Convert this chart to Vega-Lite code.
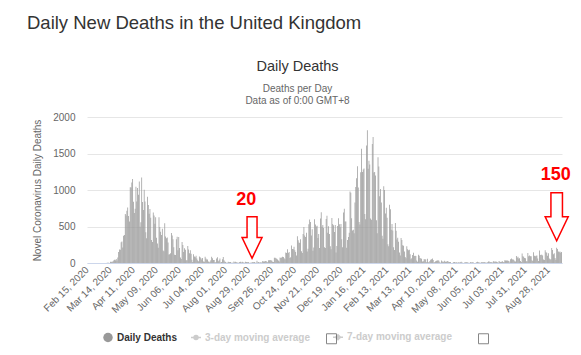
{
"$schema": "https://vega.github.io/schema/vega-lite/v6.json",
"width": 475, "height": 146,
"autosize": {"type": "none"},
"padding": {"left": 87, "top": 117, "right": 19, "bottom": 92},
"background": "#ffffff",
"title": {"text": "Daily New Deaths in the United Kingdom", "anchor": "start", "frame": "group", "dx": -60, "offset": 11, "baseline": "alphabetic", "fontSize": 18.5, "font": "Liberation Sans", "fontWeight": "normal", "color": "#333333"},
"config": {"font": "Liberation Sans", "view": {"stroke": null}},
"resolve": {"axis": {"x": "independent", "y": "independent"}},
"layer": [
{
"data": {"values": [
{"d":"2020-02-15","v":0},{"d":"2020-02-16","v":0},{"d":"2020-02-17","v":0},{"d":"2020-02-18","v":0},{"d":"2020-02-19","v":0},{"d":"2020-02-20","v":0},{"d":"2020-02-21","v":0},{"d":"2020-02-22","v":0},{"d":"2020-02-23","v":0},{"d":"2020-02-24","v":0},{"d":"2020-02-25","v":0},{"d":"2020-02-26","v":0},{"d":"2020-02-27","v":0},{"d":"2020-02-28","v":0},{"d":"2020-02-29","v":0},
{"d":"2020-03-01","v":0},{"d":"2020-03-02","v":0},{"d":"2020-03-03","v":0},{"d":"2020-03-04","v":0},{"d":"2020-03-05","v":1},{"d":"2020-03-06","v":1},{"d":"2020-03-07","v":0},{"d":"2020-03-08","v":1},{"d":"2020-03-09","v":1},{"d":"2020-03-10","v":3},{"d":"2020-03-11","v":2},{"d":"2020-03-12","v":2},{"d":"2020-03-13","v":1},{"d":"2020-03-14","v":18},{"d":"2020-03-15","v":15},{"d":"2020-03-16","v":22},{"d":"2020-03-17","v":16},{"d":"2020-03-18","v":34},{"d":"2020-03-19","v":43},{"d":"2020-03-20","v":36},{"d":"2020-03-21","v":56},{"d":"2020-03-22","v":35},{"d":"2020-03-23","v":74},{"d":"2020-03-24","v":149},{"d":"2020-03-25","v":186},{"d":"2020-03-26","v":183},{"d":"2020-03-27","v":284},{"d":"2020-03-28","v":294},{"d":"2020-03-29","v":214},{"d":"2020-03-30","v":374},{"d":"2020-03-31","v":382},
{"d":"2020-04-01","v":670},{"d":"2020-04-02","v":652},{"d":"2020-04-03","v":715},{"d":"2020-04-04","v":761},{"d":"2020-04-05","v":643},{"d":"2020-04-06","v":568},{"d":"2020-04-07","v":1038},{"d":"2020-04-08","v":1034},{"d":"2020-04-09","v":1103},{"d":"2020-04-10","v":1152},{"d":"2020-04-11","v":839},{"d":"2020-04-12","v":686},{"d":"2020-04-13","v":744},{"d":"2020-04-14","v":1044},{"d":"2020-04-15","v":842},{"d":"2020-04-16","v":1029},{"d":"2020-04-17","v":935},{"d":"2020-04-18","v":1115},{"d":"2020-04-19","v":498},{"d":"2020-04-20","v":559},{"d":"2020-04-21","v":1172},{"d":"2020-04-22","v":837},{"d":"2020-04-23","v":727},{"d":"2020-04-24","v":1005},{"d":"2020-04-25","v":843},{"d":"2020-04-26","v":420},{"d":"2020-04-27","v":338},{"d":"2020-04-28","v":909},{"d":"2020-04-29","v":795},{"d":"2020-04-30","v":674},
{"d":"2020-05-01","v":739},{"d":"2020-05-02","v":621},{"d":"2020-05-03","v":315},{"d":"2020-05-04","v":288},{"d":"2020-05-05","v":693},{"d":"2020-05-06","v":649},{"d":"2020-05-07","v":539},{"d":"2020-05-08","v":626},{"d":"2020-05-09","v":346},{"d":"2020-05-10","v":268},{"d":"2020-05-11","v":210},{"d":"2020-05-12","v":627},{"d":"2020-05-13","v":494},{"d":"2020-05-14","v":428},{"d":"2020-05-15","v":384},{"d":"2020-05-16","v":468},{"d":"2020-05-17","v":170},{"d":"2020-05-18","v":160},{"d":"2020-05-19","v":545},{"d":"2020-05-20","v":363},{"d":"2020-05-21","v":338},{"d":"2020-05-22","v":351},{"d":"2020-05-23","v":282},{"d":"2020-05-24","v":118},{"d":"2020-05-25","v":121},{"d":"2020-05-26","v":134},{"d":"2020-05-27","v":412},{"d":"2020-05-28","v":377},{"d":"2020-05-29","v":324},{"d":"2020-05-30","v":215},{"d":"2020-05-31","v":113},
{"d":"2020-06-01","v":111},{"d":"2020-06-02","v":324},{"d":"2020-06-03","v":359},{"d":"2020-06-04","v":176},{"d":"2020-06-05","v":357},{"d":"2020-06-06","v":204},{"d":"2020-06-07","v":77},{"d":"2020-06-08","v":55},{"d":"2020-06-09","v":286},{"d":"2020-06-10","v":245},{"d":"2020-06-11","v":151},{"d":"2020-06-12","v":202},{"d":"2020-06-13","v":181},{"d":"2020-06-14","v":36},{"d":"2020-06-15","v":38},{"d":"2020-06-16","v":233},{"d":"2020-06-17","v":184},{"d":"2020-06-18","v":135},{"d":"2020-06-19","v":173},{"d":"2020-06-20","v":128},{"d":"2020-06-21","v":43},{"d":"2020-06-22","v":15},{"d":"2020-06-23","v":120},{"d":"2020-06-24","v":90},{"d":"2020-06-25","v":80},{"d":"2020-06-26","v":100},{"d":"2020-06-27","v":60},{"d":"2020-06-28","v":36},{"d":"2020-06-29","v":25},{"d":"2020-06-30","v":90},
{"d":"2020-07-01","v":80},{"d":"2020-07-02","v":66},{"d":"2020-07-03","v":48},{"d":"2020-07-04","v":67},{"d":"2020-07-05","v":22},{"d":"2020-07-06","v":16},{"d":"2020-07-07","v":85},{"d":"2020-07-08","v":60},{"d":"2020-07-09","v":48},{"d":"2020-07-10","v":48},{"d":"2020-07-11","v":21},{"d":"2020-07-12","v":11},{"d":"2020-07-13","v":21},{"d":"2020-07-14","v":38},{"d":"2020-07-15","v":85},{"d":"2020-07-16","v":66},{"d":"2020-07-17","v":40},{"d":"2020-07-18","v":40},{"d":"2020-07-19","v":11},{"d":"2020-07-20","v":11},{"d":"2020-07-21","v":60},{"d":"2020-07-22","v":79},{"d":"2020-07-23","v":25},{"d":"2020-07-24","v":38},{"d":"2020-07-25","v":61},{"d":"2020-07-26","v":7},{"d":"2020-07-27","v":14},{"d":"2020-07-28","v":50},{"d":"2020-07-29","v":83},{"d":"2020-07-30","v":38},{"d":"2020-07-31","v":20},
{"d":"2020-08-01","v":15},{"d":"2020-08-02","v":5},{"d":"2020-08-03","v":3},{"d":"2020-08-04","v":18},{"d":"2020-08-05","v":12},{"d":"2020-08-06","v":14},{"d":"2020-08-07","v":12},{"d":"2020-08-08","v":5},{"d":"2020-08-09","v":4},{"d":"2020-08-10","v":4},{"d":"2020-08-11","v":20},{"d":"2020-08-12","v":10},{"d":"2020-08-13","v":18},{"d":"2020-08-14","v":11},{"d":"2020-08-15","v":6},{"d":"2020-08-16","v":3},{"d":"2020-08-17","v":4},{"d":"2020-08-18","v":12},{"d":"2020-08-19","v":16},{"d":"2020-08-20","v":6},{"d":"2020-08-21","v":18},{"d":"2020-08-22","v":12},{"d":"2020-08-23","v":3},{"d":"2020-08-24","v":2},{"d":"2020-08-25","v":16},{"d":"2020-08-26","v":13},{"d":"2020-08-27","v":12},{"d":"2020-08-28","v":9},{"d":"2020-08-29","v":12},{"d":"2020-08-30","v":1},{"d":"2020-08-31","v":2},
{"d":"2020-09-01","v":3},{"d":"2020-09-02","v":10},{"d":"2020-09-03","v":12},{"d":"2020-09-04","v":10},{"d":"2020-09-05","v":12},{"d":"2020-09-06","v":2},{"d":"2020-09-07","v":3},{"d":"2020-09-08","v":32},{"d":"2020-09-09","v":8},{"d":"2020-09-10","v":14},{"d":"2020-09-11","v":6},{"d":"2020-09-12","v":9},{"d":"2020-09-13","v":5},{"d":"2020-09-14","v":9},{"d":"2020-09-15","v":27},{"d":"2020-09-16","v":20},{"d":"2020-09-17","v":21},{"d":"2020-09-18","v":27},{"d":"2020-09-19","v":27},{"d":"2020-09-20","v":18},{"d":"2020-09-21","v":11},{"d":"2020-09-22","v":37},{"d":"2020-09-23","v":37},{"d":"2020-09-24","v":40},{"d":"2020-09-25","v":34},{"d":"2020-09-26","v":34},{"d":"2020-09-27","v":17},{"d":"2020-09-28","v":13},{"d":"2020-09-29","v":71},{"d":"2020-09-30","v":71},
{"d":"2020-10-01","v":66},{"d":"2020-10-02","v":59},{"d":"2020-10-03","v":49},{"d":"2020-10-04","v":33},{"d":"2020-10-05","v":19},{"d":"2020-10-06","v":76},{"d":"2020-10-07","v":70},{"d":"2020-10-08","v":77},{"d":"2020-10-09","v":87},{"d":"2020-10-10","v":81},{"d":"2020-10-11","v":65},{"d":"2020-10-12","v":50},{"d":"2020-10-13","v":143},{"d":"2020-10-14","v":137},{"d":"2020-10-15","v":190},{"d":"2020-10-16","v":136},{"d":"2020-10-17","v":150},{"d":"2020-10-18","v":67},{"d":"2020-10-19","v":80},{"d":"2020-10-20","v":241},{"d":"2020-10-21","v":191},{"d":"2020-10-22","v":189},{"d":"2020-10-23","v":224},{"d":"2020-10-24","v":174},{"d":"2020-10-25","v":151},{"d":"2020-10-26","v":102},{"d":"2020-10-27","v":367},{"d":"2020-10-28","v":310},{"d":"2020-10-29","v":280},{"d":"2020-10-30","v":274},{"d":"2020-10-31","v":326},
{"d":"2020-11-01","v":162},{"d":"2020-11-02","v":136},{"d":"2020-11-03","v":397},{"d":"2020-11-04","v":492},{"d":"2020-11-05","v":378},{"d":"2020-11-06","v":355},{"d":"2020-11-07","v":413},{"d":"2020-11-08","v":156},{"d":"2020-11-09","v":194},{"d":"2020-11-10","v":532},{"d":"2020-11-11","v":595},{"d":"2020-11-12","v":563},{"d":"2020-11-13","v":376},{"d":"2020-11-14","v":462},{"d":"2020-11-15","v":168},{"d":"2020-11-16","v":213},{"d":"2020-11-17","v":598},{"d":"2020-11-18","v":529},{"d":"2020-11-19","v":501},{"d":"2020-11-20","v":511},{"d":"2020-11-21","v":341},{"d":"2020-11-22","v":398},{"d":"2020-11-23","v":206},{"d":"2020-11-24","v":608},{"d":"2020-11-25","v":696},{"d":"2020-11-26","v":498},{"d":"2020-11-27","v":521},{"d":"2020-11-28","v":479},{"d":"2020-11-29","v":215},{"d":"2020-11-30","v":205},
{"d":"2020-12-01","v":603},{"d":"2020-12-02","v":648},{"d":"2020-12-03","v":414},{"d":"2020-12-04","v":504},{"d":"2020-12-05","v":397},{"d":"2020-12-06","v":231},{"d":"2020-12-07","v":189},{"d":"2020-12-08","v":616},{"d":"2020-12-09","v":533},{"d":"2020-12-10","v":516},{"d":"2020-12-11","v":424},{"d":"2020-12-12","v":519},{"d":"2020-12-13","v":144},{"d":"2020-12-14","v":232},{"d":"2020-12-15","v":506},{"d":"2020-12-16","v":612},{"d":"2020-12-17","v":532},{"d":"2020-12-18","v":489},{"d":"2020-12-19","v":534},{"d":"2020-12-20","v":326},{"d":"2020-12-21","v":215},{"d":"2020-12-22","v":691},{"d":"2020-12-23","v":744},{"d":"2020-12-24","v":570},{"d":"2020-12-25","v":570},{"d":"2020-12-26","v":210},{"d":"2020-12-27","v":316},{"d":"2020-12-28","v":357},{"d":"2020-12-29","v":414},{"d":"2020-12-30","v":981},{"d":"2020-12-31","v":964},
{"d":"2021-01-01","v":613},{"d":"2021-01-02","v":445},{"d":"2021-01-03","v":454},{"d":"2021-01-04","v":407},{"d":"2021-01-05","v":830},{"d":"2021-01-06","v":1041},{"d":"2021-01-07","v":1162},{"d":"2021-01-08","v":1325},{"d":"2021-01-09","v":1035},{"d":"2021-01-10","v":563},{"d":"2021-01-11","v":529},{"d":"2021-01-12","v":1243},{"d":"2021-01-13","v":1564},{"d":"2021-01-14","v":1248},{"d":"2021-01-15","v":1280},{"d":"2021-01-16","v":1295},{"d":"2021-01-17","v":671},{"d":"2021-01-18","v":599},{"d":"2021-01-19","v":1610},{"d":"2021-01-20","v":1820},{"d":"2021-01-21","v":1290},{"d":"2021-01-22","v":1401},{"d":"2021-01-23","v":1348},{"d":"2021-01-24","v":610},{"d":"2021-01-25","v":592},{"d":"2021-01-26","v":1631},{"d":"2021-01-27","v":1725},{"d":"2021-01-28","v":1239},{"d":"2021-01-29","v":1245},{"d":"2021-01-30","v":1200},{"d":"2021-01-31","v":587},
{"d":"2021-02-01","v":406},{"d":"2021-02-02","v":1449},{"d":"2021-02-03","v":1322},{"d":"2021-02-04","v":915},{"d":"2021-02-05","v":1014},{"d":"2021-02-06","v":828},{"d":"2021-02-07","v":373},{"d":"2021-02-08","v":333},{"d":"2021-02-09","v":1052},{"d":"2021-02-10","v":1001},{"d":"2021-02-11","v":678},{"d":"2021-02-12","v":758},{"d":"2021-02-13","v":621},{"d":"2021-02-14","v":258},{"d":"2021-02-15","v":230},{"d":"2021-02-16","v":799},{"d":"2021-02-17","v":738},{"d":"2021-02-18","v":454},{"d":"2021-02-19","v":533},{"d":"2021-02-20","v":445},{"d":"2021-02-21","v":215},{"d":"2021-02-22","v":178},{"d":"2021-02-23","v":548},{"d":"2021-02-24","v":442},{"d":"2021-02-25","v":323},{"d":"2021-02-26","v":345},{"d":"2021-02-27","v":290},{"d":"2021-02-28","v":144},
{"d":"2021-03-01","v":104},{"d":"2021-03-02","v":343},{"d":"2021-03-03","v":315},{"d":"2021-03-04","v":242},{"d":"2021-03-05","v":236},{"d":"2021-03-06","v":158},{"d":"2021-03-07","v":82},{"d":"2021-03-08","v":65},{"d":"2021-03-09","v":231},{"d":"2021-03-10","v":190},{"d":"2021-03-11","v":175},{"d":"2021-03-12","v":181},{"d":"2021-03-13","v":121},{"d":"2021-03-14","v":52},{"d":"2021-03-15","v":64},{"d":"2021-03-16","v":110},{"d":"2021-03-17","v":141},{"d":"2021-03-18","v":95},{"d":"2021-03-19","v":101},{"d":"2021-03-20","v":96},{"d":"2021-03-21","v":33},{"d":"2021-03-22","v":17},{"d":"2021-03-23","v":112},{"d":"2021-03-24","v":98},{"d":"2021-03-25","v":70},{"d":"2021-03-26","v":63},{"d":"2021-03-27","v":58},{"d":"2021-03-28","v":19},{"d":"2021-03-29","v":23},{"d":"2021-03-30","v":56},{"d":"2021-03-31","v":43},
{"d":"2021-04-01","v":51},{"d":"2021-04-02","v":10},{"d":"2021-04-03","v":58},{"d":"2021-04-04","v":10},{"d":"2021-04-05","v":9},{"d":"2021-04-06","v":26},{"d":"2021-04-07","v":45},{"d":"2021-04-08","v":53},{"d":"2021-04-09","v":60},{"d":"2021-04-10","v":40},{"d":"2021-04-11","v":7},{"d":"2021-04-12","v":13},{"d":"2021-04-13","v":23},{"d":"2021-04-14","v":30},{"d":"2021-04-15","v":34},{"d":"2021-04-16","v":36},{"d":"2021-04-17","v":32},{"d":"2021-04-18","v":10},{"d":"2021-04-19","v":4},{"d":"2021-04-20","v":33},{"d":"2021-04-21","v":22},{"d":"2021-04-22","v":16},{"d":"2021-04-23","v":18},{"d":"2021-04-24","v":32},{"d":"2021-04-25","v":17},{"d":"2021-04-26","v":17},{"d":"2021-04-27","v":29},{"d":"2021-04-28","v":25},{"d":"2021-04-29","v":15},{"d":"2021-04-30","v":13},
{"d":"2021-05-01","v":15},{"d":"2021-05-02","v":1},{"d":"2021-05-03","v":1},{"d":"2021-05-04","v":4},{"d":"2021-05-05","v":13},{"d":"2021-05-06","v":13},{"d":"2021-05-07","v":7},{"d":"2021-05-08","v":9},{"d":"2021-05-09","v":6},{"d":"2021-05-10","v":4},{"d":"2021-05-11","v":11},{"d":"2021-05-12","v":7},{"d":"2021-05-13","v":11},{"d":"2021-05-14","v":17},{"d":"2021-05-15","v":7},{"d":"2021-05-16","v":4},{"d":"2021-05-17","v":1},{"d":"2021-05-18","v":6},{"d":"2021-05-19","v":9},{"d":"2021-05-20","v":9},{"d":"2021-05-21","v":12},{"d":"2021-05-22","v":6},{"d":"2021-05-23","v":5},{"d":"2021-05-24","v":0},{"d":"2021-05-25","v":14},{"d":"2021-05-26","v":7},{"d":"2021-05-27","v":10},{"d":"2021-05-28","v":10},{"d":"2021-05-29","v":6},{"d":"2021-05-30","v":1},{"d":"2021-05-31","v":0},
{"d":"2021-06-01","v":3},{"d":"2021-06-02","v":12},{"d":"2021-06-03","v":18},{"d":"2021-06-04","v":11},{"d":"2021-06-05","v":6},{"d":"2021-06-06","v":4},{"d":"2021-06-07","v":5},{"d":"2021-06-08","v":13},{"d":"2021-06-09","v":10},{"d":"2021-06-10","v":9},{"d":"2021-06-11","v":12},{"d":"2021-06-12","v":6},{"d":"2021-06-13","v":6},{"d":"2021-06-14","v":3},{"d":"2021-06-15","v":10},{"d":"2021-06-16","v":19},{"d":"2021-06-17","v":19},{"d":"2021-06-18","v":11},{"d":"2021-06-19","v":14},{"d":"2021-06-20","v":10},{"d":"2021-06-21","v":7},{"d":"2021-06-22","v":23},{"d":"2021-06-23","v":19},{"d":"2021-06-24","v":16},{"d":"2021-06-25","v":21},{"d":"2021-06-26","v":18},{"d":"2021-06-27","v":11},{"d":"2021-06-28","v":4},{"d":"2021-06-29","v":27},{"d":"2021-06-30","v":18},
{"d":"2021-07-01","v":14},{"d":"2021-07-02","v":18},{"d":"2021-07-03","v":24},{"d":"2021-07-04","v":15},{"d":"2021-07-05","v":9},{"d":"2021-07-06","v":37},{"d":"2021-07-07","v":33},{"d":"2021-07-08","v":35},{"d":"2021-07-09","v":34},{"d":"2021-07-10","v":32},{"d":"2021-07-11","v":26},{"d":"2021-07-12","v":6},{"d":"2021-07-13","v":50},{"d":"2021-07-14","v":63},{"d":"2021-07-15","v":49},{"d":"2021-07-16","v":51},{"d":"2021-07-17","v":41},{"d":"2021-07-18","v":25},{"d":"2021-07-19","v":19},{"d":"2021-07-20","v":96},{"d":"2021-07-21","v":73},{"d":"2021-07-22","v":84},{"d":"2021-07-23","v":63},{"d":"2021-07-24","v":64},{"d":"2021-07-25","v":28},{"d":"2021-07-26","v":14},{"d":"2021-07-27","v":131},{"d":"2021-07-28","v":91},{"d":"2021-07-29","v":85},{"d":"2021-07-30","v":68},{"d":"2021-07-31","v":65},
{"d":"2021-08-01","v":24},{"d":"2021-08-02","v":24},{"d":"2021-08-03","v":138},{"d":"2021-08-04","v":92},{"d":"2021-08-05","v":103},{"d":"2021-08-06","v":94},{"d":"2021-08-07","v":92},{"d":"2021-08-08","v":39},{"d":"2021-08-09","v":26},{"d":"2021-08-10","v":146},{"d":"2021-08-11","v":100},{"d":"2021-08-12","v":93},{"d":"2021-08-13","v":100},{"d":"2021-08-14","v":103},{"d":"2021-08-15","v":61},{"d":"2021-08-16","v":26},{"d":"2021-08-17","v":170},{"d":"2021-08-18","v":111},{"d":"2021-08-19","v":113},{"d":"2021-08-20","v":114},{"d":"2021-08-21","v":104},{"d":"2021-08-22","v":49},{"d":"2021-08-23","v":40},{"d":"2021-08-24","v":174},{"d":"2021-08-25","v":148},{"d":"2021-08-26","v":140},{"d":"2021-08-27","v":100},{"d":"2021-08-28","v":133},{"d":"2021-08-29","v":61},{"d":"2021-08-30","v":48},{"d":"2021-08-31","v":50},
{"d":"2021-09-01","v":207},{"d":"2021-09-02","v":178},{"d":"2021-09-03","v":121},{"d":"2021-09-04","v":133},{"d":"2021-09-05","v":68},{"d":"2021-09-06","v":45},{"d":"2021-09-07","v":209},{"d":"2021-09-08","v":191},{"d":"2021-09-09","v":156},{"d":"2021-09-10","v":147},{"d":"2021-09-11","v":156},{"d":"2021-09-12","v":140},{"d":"2021-09-13","v":150}
]},
"mark": {"type": "bar"},
"encoding": {
"x": {"field": "d", "type": "ordinal", "scale": {"type": "band", "paddingInner": 0.1, "paddingOuter": 0},
"axis": {"values": ["2020-02-15","2020-03-14","2020-04-11","2020-05-09","2020-06-06","2020-07-04","2020-08-01","2020-08-29","2020-09-26","2020-10-24","2020-11-21","2020-12-19","2021-01-16","2021-02-13","2021-03-13","2021-04-10","2021-05-08","2021-06-05","2021-07-03","2021-07-31","2021-08-28"],
"labelExpr": "utcFormat(toDate(datum.value), '%b %d, %Y')", "labelAngle": -45, "labelAlign": "right", "labelBaseline": "middle", "labelFontSize": 10, "labelColor": "#666666", "labelPadding": 5, "labelOverlap": false, "labelBound": false, "ticks": false, "grid": false, "domainColor": "#ccd6eb", "domainWidth": 1, "title": null, "orient": "bottom"}},
"y": {"field": "v", "type": "quantitative", "scale": {"domain": [0, 2000], "nice": false},
"axis": {"title": "Novel Coronavirus Daily Deaths", "orient": "left", "values": [0, 500, 1000, 1500, 2000], "format": "d", "grid": true, "gridColor": "#e6e6e6", "domain": false, "ticks": false, "labelColor": "#666666", "labelFontSize": 10, "labelPadding": 12, "titleColor": "#666666", "titleFontSize": 10, "titleFontWeight": "normal", "titlePadding": 10}},
"color": {"datum": "Daily Deaths", "type": "nominal",
"scale": {"domain": ["Daily Deaths", "3-day moving average", "7-day moving average"], "range": ["#999999", "#cccccc", "#cccccc"]},
"legend": {"orient": "none", "legendX": 16, "legendY": 215, "direction": "horizontal", "title": null, "symbolSize": 100, "labelOffset": 4, "columnPadding": 10, "labelFontSize": 10, "labelFontWeight": "bold", "labelFont": "Liberation Sans", "labelLimit": 300,
"encode": {
"symbols": {"update": {
"shape": {"signal": "datum.value === 'Daily Deaths' ? 'circle' : (datum.value === '3-day moving average' ? 'M-1,0H1M-0.4,0A0.4,0.4 0 1,0 0.4,0A0.4,0.4 0 1,0 -0.4,0Z' : 'M1.4,0H3.4M2.4,-0.5L2.9,0L2.4,0.5L1.9,0Z')"},
"fill": {"signal": "datum.value === 'Daily Deaths' ? '#999999' : '#cccccc'"},
"stroke": {"signal": "datum.value === 'Daily Deaths' ? '#999999' : '#cccccc'"},
"strokeWidth": {"signal": "datum.value === 'Daily Deaths' ? 0 : 1.5"},
"size": {"signal": "datum.value === 'Daily Deaths' ? 90 : 100"},
"opacity": {"value": 1}}},
"labels": {"update": {
"fill": {"signal": "datum.value === 'Daily Deaths' ? '#333333' : '#cccccc'"},
"dx": {"signal": "datum.value === '7-day moving average' ? 12 : 0"}}}}}}
}
},
{
"data": {"values": [{"c": "3-day"}, {"c": "7-day"}]},
"transform": [{"filter": "false"}],
"mark": {"type": "point", "filled": false, "color": "#555555"},
"encoding": {
"shape": {"field": "c", "type": "nominal", "scale": {"domain": ["3-day", "7-day"], "range": ["square", "square"]},
"legend": {"orient": "none", "legendX": 239, "legendY": 216, "direction": "horizontal", "title": null, "symbolSize": 100, "labelOffset": 0, "columnPadding": 137, "labelExpr": "''", "symbolStrokeColor": "#555555", "symbolFillColor": "#ffffff", "symbolStrokeWidth": 1,
"encode": {"symbols": {"update": {"fill": {"value": "#ffffff"}, "stroke": {"value": "#555555"}, "strokeWidth": {"value": 1}, "opacity": {"value": 1}}}}}}
}
},
{
"data": {"values": [{"d": "2020-09-02", "v": 349}, {"d": "2021-09-07", "v": 634}]},
"mark": {"type": "point", "shape": "M-0.24,-1L0.24,-1L0.24,0L0.48,0L0,1L-0.48,0L-0.24,0Z", "filled": true, "fill": "#ffffff", "stroke": "#ff0000", "strokeWidth": 1.5, "opacity": 1},
"encoding": {
"x": {"field": "d", "type": "ordinal",
"axis": {"orient": "top", "title": "Daily Deaths", "labels": false, "ticks": false, "domain": false, "grid": false, "titleFontSize": 14.5, "titleFontWeight": "normal", "titleColor": "#333333", "titleX": 210, "titleY": -47, "titleAlign": "center", "titleBaseline": "alphabetic"}},
"y": {"field": "v", "type": "quantitative", "scale": {"domain": [0, 2000], "nice": false},
"axis": {"orient": "right", "title": ["Deaths per Day", "Data as of 0:00 GMT+8"], "labels": false, "ticks": false, "domain": false, "grid": false, "titleAngle": 0, "titleX": -265, "titleY": -26, "titleAlign": "center", "titleBaseline": "alphabetic", "titleFontSize": 10, "titleFontWeight": "normal", "titleColor": "#666666", "titleLineHeight": 12}},
"size": {"condition": {"test": "datum.v > 500", "value": 2304}, "value": 1731}
}
},
{
"data": {"values": [{"d": "2020-08-26", "v": 863, "t": "20"}, {"d": "2021-09-06", "v": 1212, "t": "150"}]},
"mark": {"type": "text", "fontSize": 18, "fontWeight": "bold", "color": "#ff0000", "align": "center", "baseline": "middle", "font": "Liberation Sans"},
"encoding": {
"x": {"field": "d", "type": "ordinal", "axis": null},
"y": {"field": "v", "type": "quantitative", "scale": {"domain": [0, 2000], "nice": false}, "axis": null},
"text": {"field": "t"}
}
}
]
}
